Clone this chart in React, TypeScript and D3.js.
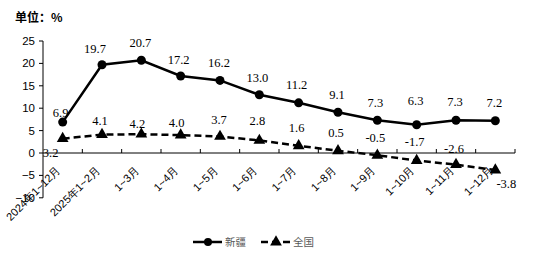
import React from "react";
import * as d3 from "d3";

const categories = ["2024年1~12月", "2025年1~2月", "1~3月", "1~4月", "1~5月", "1~6月", "1~7月", "1~8月", "1~9月", "1~10月", "1~11月", "1~12月"];
const xinjiang = [6.9, 19.7, 20.7, 17.2, 16.2, 13.0, 11.2, 9.1, 7.3, 6.3, 7.3, 7.2];
const national = [3.2, 4.1, 4.2, 4.0, 3.7, 2.8, 1.6, 0.5, -0.5, -1.7, -2.6, -3.8];
const yTicks = [-10, -5, 0, 5, 10, 15, 20, 25];
const seriesNames = ["新疆", "全国"];

// label nudges (layout only)
const xjNudge: [number, number][] = [[-2, -5], [-7, -12], [-1, -13], [-2, -12], [-1, -13], [-2, -13], [-2, -14], [-1, -13], [-2, -13], [-1, -20], [-1, -14], [-1, -14]];
const nNudge: [number, number][] = [[-12, 18], [-2, -10], [-4, -6], [-4, -8], [-1, -12], [-2, -15], [-2, -14], [-2, -14], [-2, -13], [-2, -15], [-2, -12], [11, 18]];

export default function App() {
  const W = 536, H = 261;
  const x = d3.scaleBand<string>().domain(categories).range([43, 515]).padding(0);
  const y = d3.scaleLinear().domain([-10, 25]).range([197.8, 41]);
  const cx = (i: number) => (x(categories[i]) as number) + x.bandwidth() / 2;
  const lineGen = d3.line<number>().x((_, i) => cx(i)).y((d) => y(d));
  const tri = d3.symbol().type(d3.symbolTriangle).size(60)() as string;
  const y0 = y(0);
  const boundaries = categories.map((c) => (x(c) as number) + x.bandwidth());
  const numFont = "'Liberation Serif', 'Times New Roman', serif";
  const sansFont = "'Liberation Sans', Arial, sans-serif";
  return (
    <svg width={W} height={H} style={{ position: "absolute", left: 0, top: 0, background: "#fff" }}>
      <text x={15} y={22} fontFamily="'Noto Sans CJK SC', sans-serif" fontWeight="bold" fontSize={12} fill="#000">单位：%</text>
      {/* y axis */}
      <line x1={43} x2={43} y1={y(25)} y2={y(-10)} stroke="#000" strokeWidth={1} />
      {yTicks.map((t) => (
        <g key={t}>
          <line x1={39} x2={43} y1={y(t)} y2={y(t)} stroke="#000" strokeWidth={1} />
          <text x={35} y={y(t) + 4} textAnchor="end" fontFamily={sansFont} fontSize={11.5} fill="#000">{t < 0 ? "−" + Math.abs(t) : t}</text>
        </g>
      ))}
      {/* x axis */}
      <line x1={43} x2={515} y1={y0} y2={y0} stroke="#000" strokeWidth={1} />
      {boundaries.map((b, i) => (
        <line key={i} x1={b} x2={b} y1={y0} y2={y0 - 4} stroke="#000" strokeWidth={1} />
      ))}
      {categories.map((c, i) => (
        <text key={c} transform={`translate(${cx(i) - 1.5},${y0 + 18}) rotate(-45)`} textAnchor="end" fontFamily={sansFont} fontSize={11} fill="#000">{c}</text>
      ))}
      {/* national dashed */}
      <path d={lineGen(national) as string} fill="none" stroke="#000" strokeWidth={2.5} strokeDasharray="7,4" />
      {national.map((v, i) => (
        <path key={i} d={tri} transform={`translate(${cx(i)},${y(v)})`} fill="#000" />
      ))}
      {/* xinjiang solid */}
      <path d={lineGen(xinjiang) as string} fill="none" stroke="#000" strokeWidth={2.5} />
      {xinjiang.map((v, i) => (
        <circle key={i} cx={cx(i)} cy={y(v)} r={4.5} fill="#000" />
      ))}
      {xinjiang.map((v, i) => (
        <text key={i} x={cx(i) + xjNudge[i][0]} y={y(v) + xjNudge[i][1]} textAnchor="middle" fontFamily={numFont} fontSize={12.5} fill="#000">{v.toFixed(1)}</text>
      ))}
      {national.map((v, i) => (
        <text key={i} x={cx(i) + nNudge[i][0]} y={y(v) + nNudge[i][1]} textAnchor="middle" fontFamily={numFont} fontSize={12.5} fill="#000">{v.toFixed(1)}</text>
      ))}
      {/* legend */}
      <g>
        <line x1={193} x2={222} y1={242} y2={242} stroke="#000" strokeWidth={2.5} />
        <circle cx={208} cy={242} r={4} fill="#000" />
        <text x={225} y={246} fontFamily="'Noto Sans CJK SC', serif" fontSize={10.5} fill="#595959">{seriesNames[0]}</text>
        <line x1={261} x2={290} y1={242} y2={242} stroke="#000" strokeWidth={2.5} strokeDasharray="7,4" />
        <path d={tri} transform="translate(276,242)" fill="#000" />
        <text x={293} y={246} fontFamily="'Noto Sans CJK SC', serif" fontSize={10.5} fill="#595959">{seriesNames[1]}</text>
      </g>
    </svg>
  );
}
